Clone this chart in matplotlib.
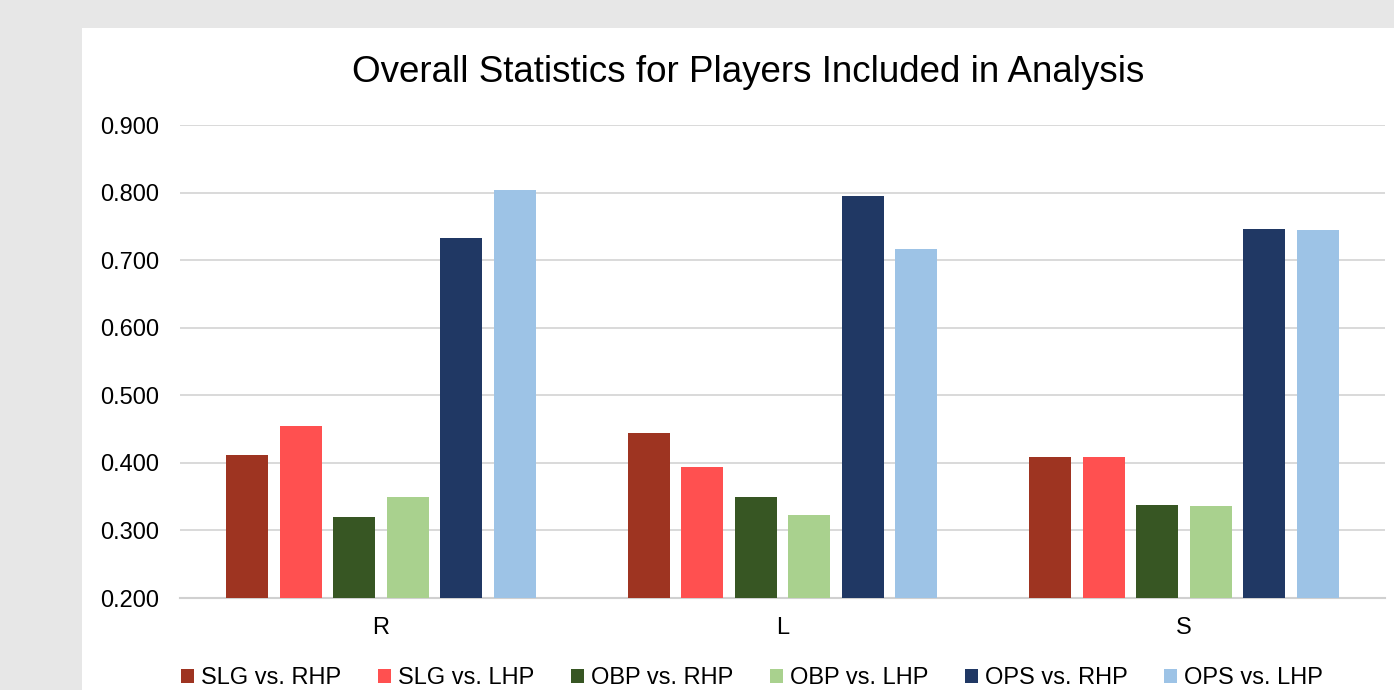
import numpy as np
import matplotlib
matplotlib.use("Agg")
import matplotlib.pyplot as plt
from matplotlib.patches import Rectangle

plt.rcParams['font.family'] = ['Liberation Sans', 'DejaVu Sans']

# Handedness groups and the six split stats
categories = ['R', 'L', 'S']
series_names = ['SLG vs. RHP', 'SLG vs. LHP', 'OBP vs. RHP',
                'OBP vs. LHP', 'OPS vs. RHP', 'OPS vs. LHP']
slg_rhp = [0.412, 0.444, 0.409]
slg_lhp = [0.454, 0.394, 0.409]
obp_rhp = [0.320, 0.349, 0.338]
obp_lhp = [0.349, 0.323, 0.336]
ops_rhp = [0.733, 0.795, 0.746]
ops_lhp = [0.804, 0.716, 0.744]
y_ticks = [0.2, 0.3, 0.4, 0.5, 0.6, 0.7, 0.8, 0.9]

series = [slg_rhp, slg_lhp, obp_rhp, obp_lhp, ops_rhp, ops_lhp]
colors = ['#9E3421', '#FF5050', '#375623', '#A9D18E', '#203864', '#9DC3E6']

fig = plt.figure(figsize=(13.94, 6.9), dpi=100)
fig.patch.set_facecolor('#E7E7E7')
# white chart area on the grey sheet, kept behind the axes
fig.patches.append(Rectangle((82 / 1394, 0), 1 - 82 / 1394, 1 - 28 / 690,
                             transform=fig.transFigure, facecolor='white',
                             edgecolor='none', zorder=-5))

ax = fig.add_axes([0.1291, 0.1333, 0.8644, 0.6855])
ax.set_facecolor('none')

x = np.arange(len(categories))
pitch = 0.1332
width = 0.1046
for i, (vals, col, name) in enumerate(zip(series, colors, series_names)):
    offs = (i - 2.5) * pitch
    ax.bar(x + offs, np.array(vals) - 0.2, bottom=0.2, width=width,
           color=col, label=name, zorder=3)

ax.set_xlim(-0.5, 2.5)
ax.set_ylim(0.2, 0.9)
ax.set_yticks(y_ticks)
ax.set_yticklabels([f'{v:.3f}' for v in y_ticks])
ax.set_xticks(x)
ax.set_xticklabels(categories)
ax.tick_params(axis='both', length=0, labelsize=17, colors='black')
ax.tick_params(axis='y', pad=15)
ax.tick_params(axis='x', pad=14)
ax.grid(axis='y', color='#D9D9D9', linewidth=1.4, zorder=0)
for s in ['top', 'left', 'right']:
    ax.spines[s].set_visible(False)
ax.spines['bottom'].set_color('#D0D0D0')
ax.spines['bottom'].set_linewidth(1.5)

fig.text(748 / 1394, 1 - 73 / 690,
         'Overall Statistics for Players Included in Analysis',
         ha='center', va='center', fontsize=26.5)

fig.legend(loc='center', bbox_to_anchor=(752 / 1394, 1 - 678 / 690),
           ncol=6, frameon=False, fontsize=17, handlelength=0.55,
           handleheight=0.55, handletextpad=0.3, columnspacing=1.55)

fig.savefig('out.png', dpi=100, facecolor=fig.get_facecolor())
